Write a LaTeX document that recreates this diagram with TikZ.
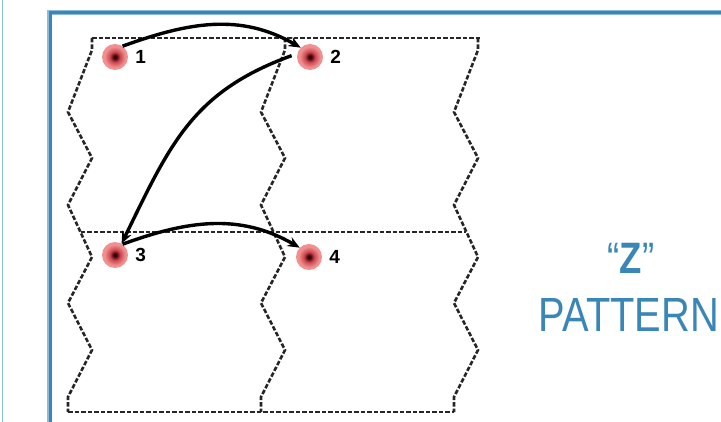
\documentclass[tikz,border=0pt]{standalone}
\usepackage{fontspec}
\setmainfont{Liberation Sans}
\newfontfamily\headfont[FakeStretch=0.83]{Liberation Sans}
\usetikzlibrary{arrows.meta,positioning}
\definecolor{zblue}{HTML}{3A86B6}
\definecolor{zpale}{HTML}{8CBAD8}
\definecolor{dotcore}{HTML}{3A0508}
\definecolor{dotred}{HTML}{CC4650}
\definecolor{dotpink}{HTML}{F0908F}
\pgfdeclareradialshading{dotshade}{\pgfpoint{0bp}{0bp}}{color(0bp)=(dotcore); color(3bp)=(dotcore); color(10bp)=(dotred); color(20bp)=(dotpink); color(44bp)=(dotpink); color(50bp)=(dotpink!70!white)}

\begin{document}
\begin{tikzpicture}[x=1pt, y=1pt, >={Stealth[length=12pt,width=10pt]},
    spot/.style={circle, minimum size=26pt, inner sep=0pt, shading=dotshade},
    numlab/.style={font=\bfseries\fontsize{19}{19}\selectfont, inner sep=0pt},
    flow/.style={->, line width=3.4pt, black},
    cell/.style={dash pattern=on 4.5pt off 2pt, line width=2.6pt, black!85},
    caption/.style={text=zblue, inner sep=0pt}]

\useasboundingbox (0,0) rectangle (721,-422);
\clip (0,0) rectangle (721,-422);

% Frame
\draw[zpale, line width=1.8pt] (2.5,0) -- (2.5,-422);
\draw[zpale, line width=4.5pt] (49.5,-800) -- (49.5,-12.5) -- (800,-12.5);
\draw[zblue, line width=3pt] (50,-800) -- (50,-13) -- (800,-13);

% Cells: one zigzag edge per column
\foreach \dx in {0,193,386} {
  \draw[cell] (92+\dx,-38) -- (92+\dx,-50) -- (68+\dx,-112) -- (92+\dx,-158)
    -- (68+\dx,-205) -- (92+\dx,-257) -- (68+\dx,-303) -- (92+\dx,-350)
    -- (68+\dx,-397) -- (68+\dx,-412);
}
\draw[cell] (92,-38) -- (480,-38);
\draw[cell] (80.5,-232) -- (466,-232);
\draw[cell] (68,-412) -- (454,-412);

% Spots
\node[spot] (p1) at (115,-57) {};
\node[spot] (p2) at (310,-57) {};
\node[spot] (p3) at (115,-255) {};
\node[spot] (p4) at (309,-257) {};
\node[numlab, right=7pt of p1] (l1) {1};
\node[numlab, right=7pt of p2] (l2) {2};
\node[numlab, right=7pt of p3] (l3) {3};
\node[numlab, right=7pt of p4] (l4) {4};

% Reading order
\draw[flow] (p1.55) to[out=20, in=150] (p2.135);
\draw[flow, shorten <=6pt] (p2.165) to[out=200, in=64, looseness=1.1] (p3.60);
\draw[flow] (p3.55) to[out=20, in=150] (p4.135);

% Caption
\node[caption, font=\headfont\fontsize{44}{44}\selectfont] (zq) at (631,-258) {“\textbf{Z}”};
\node[caption, font=\headfont\fontsize{48}{48}\selectfont] (pat) at (629,-315) {PATTERN};

\end{tikzpicture}
\end{document}
